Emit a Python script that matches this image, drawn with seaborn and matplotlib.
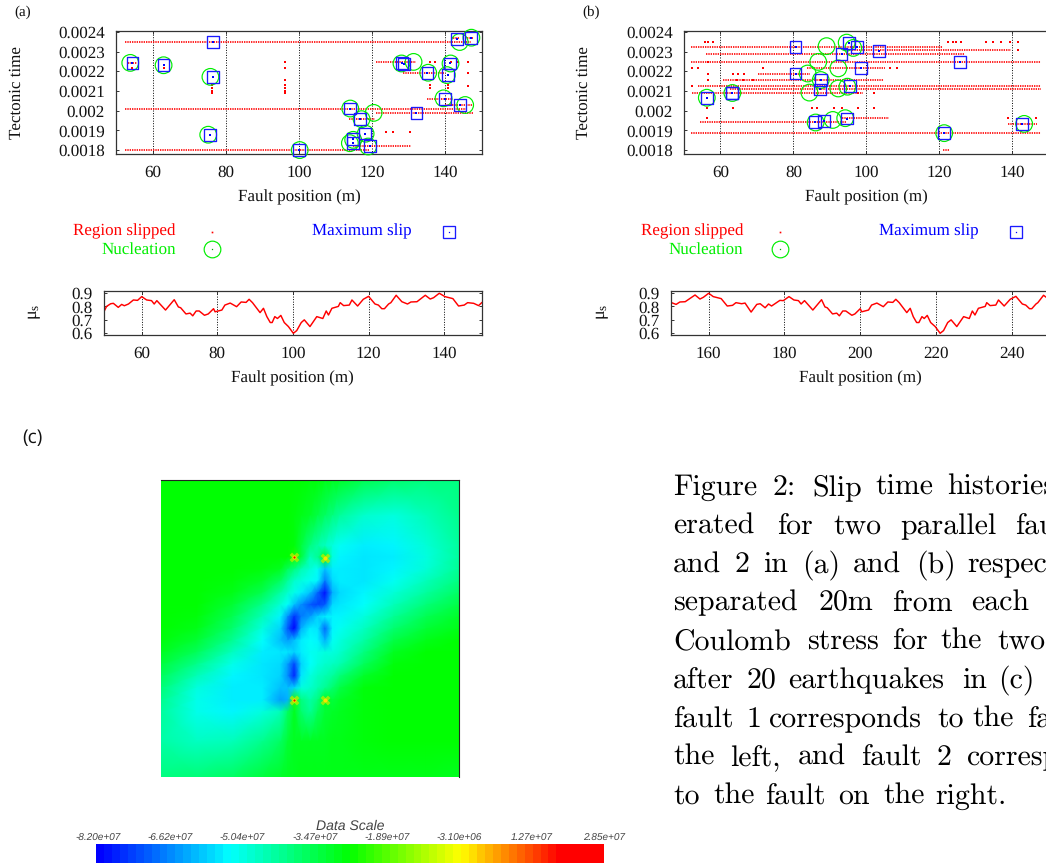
import numpy as np
import seaborn as sns
import matplotlib
matplotlib.use("Agg")
import matplotlib.pyplot as plt
from matplotlib.colors import LinearSegmentedColormap
from matplotlib.lines import Line2D

### panel (a) - slip histories, fault 1
a_row_time = [0.00235, 0.00201, 0.0018, 0.00182, 0.002247, 0.00219, 0.00206, 0.00203, 0.00199, 0.00196, 0.00224, 0.00237, 0.00237]
a_row_start = [52.4, 52.4, 52.4, 114.8, 121, 128.4, 135, 140, 121, 113.7, 53.4, 142.2, 146]
a_row_end = [147, 146, 119, 130.7, 132, 140, 142, 147.5, 147.5, 120.7, 55.8, 144, 147.8]
a_dot_x = [96.1, 96.1, 96.1, 96.1, 96.1, 96.1, 96.1, 76.3, 76.3, 76.3, 76.3, 135.7, 135.7, 140.7, 140.7, 146.2, 146.2, 135.7, 137.1, 141.6, 143.4, 146.2, 123.9, 125.7, 130.2, 54.5, 63]
a_dot_t = [0.002248, 0.002218, 0.002156, 0.00213, 0.002113, 0.002102, 0.002088, 0.00213, 0.002113, 0.002102, 0.002088, 0.00213, 0.002113, 0.00213, 0.002113, 0.002193, 0.002125, 0.002247, 0.002247, 0.002247, 0.002247, 0.002247, 0.00189, 0.00189, 0.00189, 0.002218, 0.002215]
a_max_x = [54.5, 63.0, 76.4, 76.4, 75.6, 100.0, 114.0, 116.6, 118.1, 114.8, 114.8, 119.5, 128.2, 128.7, 132.1, 135.1, 140.7, 139.8, 143.9, 141.3, 143.1, 146.9]
a_max_t = [0.002243, 0.002231, 0.002349, 0.002172, 0.001878, 0.0018, 0.002011, 0.001957, 0.001884, 0.001856, 0.001835, 0.00182, 0.002243, 0.002238, 0.001989, 0.002193, 0.002181, 0.00206, 0.002029, 0.00224, 0.002366, 0.002371]
a_nuc_x = [53.9, 63.0, 75.8, 75.2, 100.2, 114.0, 117.1, 120.4, 118.2, 114.8, 113.9, 118.9, 128.0, 131.3, 135.3, 140.4, 139.5, 145.4, 141.4, 143.9, 147.1]
a_nuc_t = [0.002243, 0.002231, 0.002172, 0.001878, 0.0018, 0.002011, 0.001957, 0.001989, 0.001883, 0.001852, 0.001835, 0.001818, 0.00224, 0.002248, 0.002193, 0.002181, 0.002063, 0.002029, 0.00224, 0.002349, 0.002371]

### panel (b) - slip histories, fault 2
b_row_time = [0.002326, 0.002306, 0.002289, 0.002248, 0.002218, 0.002189, 0.002156, 0.002125, 0.00211, 0.002091, 0.001962, 0.001942, 0.001933, 0.001888, 0.0018]
b_row_start = [52.1, 96, 56, 52.1, 83.7, 70.4, 60.8, 54, 62.7, 52.3, 93.2, 54.4, 138.9, 52.1, 121.1]
b_row_end = [121, 139.5, 127, 147.8, 105, 84.6, 104.7, 147.8, 147.8, 99.2, 106.3, 94.6, 146.7, 147.8, 122.9]
b_dot_x = [55.8, 56.7, 57.9, 122.3, 123.8, 124.6, 125.8, 132.7, 134.6, 136.9, 139.4, 141.6, 56.7, 52.3, 54, 71.6, 106.5, 108.5, 56.7, 63.4, 64.9, 66.5, 56.7, 64.5, 66.3, 68.9, 52.3, 56.3, 63.6, 85, 86.6, 91.2, 93.2, 97.8, 102.1, 56.3, 138.9, 146.4, 97.8, 102.1, 141.6]
b_dot_t = [0.00235] * 12 + [0.002248] + [0.002218] * 5 + [0.002186] * 4 + [0.002156] * 4 + [0.002125] + [0.002012] * 8 + [0.001962] * 3 + [0.002091] * 2 + [0.002306]
b_max_x = [80.6, 95.2, 97.4, 103.4, 93.2, 125.7, 98.5, 80.6, 87.6, 95.5, 87.3, 56.3, 63.1, 63.3, 85.9, 88.4, 94.6, 121.3, 142.6]
b_max_t = [0.002324, 0.002346, 0.002324, 0.002304, 0.002289, 0.002248, 0.002218, 0.002189, 0.002156, 0.002125, 0.002108, 0.002065, 0.002088, 0.00209, 0.001942, 0.001948, 0.00196, 0.001888, 0.001933]
b_nuc_x = [89.1, 94.6, 96.4, 86.8, 92.3, 83.9, 87.5, 94.8, 92.3, 84.4, 56.3, 63.3, 86.1, 90.8, 94.2, 121.3, 143.2]
b_nuc_t = [0.002328, 0.002346, 0.002319, 0.002248, 0.002215, 0.002189, 0.002156, 0.002122, 0.002113, 0.002092, 0.002066, 0.00209, 0.00194, 0.001953, 0.001962, 0.001886, 0.001933]

### static friction profiles
mu_a_x = [50, 50.7, 51.8, 52.5, 53.8, 54.7, 55.4, 56.5, 57.8, 58.9, 60, 61.3, 62.6, 63.3, 64, 66.3, 68.6, 69.7, 70.3, 71.7, 72.8, 73.5, 74.4, 75.2, 76.6, 77.6, 79, 79.4, 81.2, 82, 83.4, 85.1, 86.3, 87.6, 88.4, 89.3, 91.3, 92.2, 93.1, 94, 94.5, 95.2, 95.9, 96.8, 97.7, 98.8, 100.1, 101, 102.2, 103, 104.5, 106.3, 107.9, 108.8, 109.4, 110.3, 112, 112.5, 113.4, 114.9, 115.6, 117.1, 118.6, 120, 121.7, 122.6, 123.5, 124.2, 125.3, 125.9, 127.3, 128.8, 130.3, 131.2, 132.8, 135, 136.3, 137.2, 138.7, 140.2, 142.3, 143.8, 145.3, 146.2, 147.8, 149.1, 150]
mu_a = [0.76, 0.80, 0.82, 0.823, 0.793, 0.815, 0.805, 0.818, 0.848, 0.845, 0.873, 0.848, 0.843, 0.818, 0.843, 0.773, 0.85, 0.796, 0.79, 0.744, 0.75, 0.73, 0.766, 0.766, 0.734, 0.744, 0.783, 0.76, 0.773, 0.81, 0.825, 0.798, 0.833, 0.83, 0.853, 0.828, 0.754, 0.786, 0.724, 0.68, 0.68, 0.724, 0.71, 0.733, 0.68, 0.65, 0.60, 0.62, 0.68, 0.70, 0.65, 0.724, 0.71, 0.766, 0.736, 0.786, 0.80, 0.828, 0.806, 0.81, 0.848, 0.803, 0.853, 0.875, 0.818, 0.81, 0.783, 0.783, 0.818, 0.828, 0.883, 0.835, 0.818, 0.833, 0.835, 0.883, 0.855, 0.865, 0.898, 0.873, 0.858, 0.803, 0.81, 0.828, 0.823, 0.806, 0.83]
mu_b_x = [150, 151.4, 152.4, 153.8, 156.4, 157.7, 158.6, 160, 161.2, 163.3, 164.9, 166.3, 167.2, 168.7, 169.6, 171.2, 172.7, 173.6, 174.9, 175.8, 176.6, 178.8, 179.7, 181.2, 182.5, 183.7, 184.4, 185.3, 187.5, 189.8, 190.7, 191.3, 192.7, 193.8, 194.5, 195.4, 196.2, 197.8, 198.6, 200, 200.4, 202.2, 203, 204.4, 206.1, 207.3, 208.6, 209.4, 210.3, 212.3, 213.2, 214, 214.9, 215.5, 216.3, 216.9, 217.7, 218.6, 219.8, 221.1, 222, 223.1, 224, 225.5, 227.3, 228.8, 229.6, 230.3, 231.2, 233, 233.4, 234.3, 235.8, 236.5, 238, 239.6, 241.1, 242.8, 243.7, 244.7, 245.3, 246.4, 246.9, 248.4, 249.1, 250]
mu_b = [0.83, 0.815, 0.833, 0.835, 0.885, 0.855, 0.868, 0.898, 0.873, 0.858, 0.803, 0.808, 0.828, 0.82, 0.825, 0.758, 0.815, 0.82, 0.79, 0.818, 0.803, 0.845, 0.843, 0.873, 0.848, 0.843, 0.818, 0.843, 0.773, 0.85, 0.796, 0.79, 0.744, 0.75, 0.73, 0.766, 0.766, 0.734, 0.744, 0.783, 0.76, 0.773, 0.81, 0.825, 0.798, 0.833, 0.83, 0.853, 0.828, 0.754, 0.786, 0.724, 0.68, 0.68, 0.724, 0.71, 0.733, 0.68, 0.65, 0.60, 0.62, 0.68, 0.70, 0.65, 0.724, 0.71, 0.766, 0.736, 0.786, 0.80, 0.828, 0.806, 0.81, 0.848, 0.803, 0.853, 0.875, 0.818, 0.81, 0.783, 0.783, 0.818, 0.828, 0.883, 0.868, 0.86]

### coulomb stress field (units of 1e6), nodes as fraction of the frame
field_u = [0, 0.12, 0.24, 0.34, 0.40, 0.425, 0.447, 0.47, 0.50, 0.525, 0.55, 0.575, 0.60, 0.68, 0.78, 0.89, 1]
field_v = [0, 0.12, 0.22, 0.26, 0.30, 0.34, 0.38, 0.42, 0.46, 0.50, 0.54, 0.58, 0.62, 0.66, 0.70, 0.74, 0.78, 0.88, 1]
field = [
    [-27, -27, -27, -27, -27, -27, -27, -27, -28, -28, -29, -30, -31, -35, -38, -40, -40],
    [-27, -27, -27, -27, -27, -27, -28, -29, -31, -34, -37, -40, -43, -48, -50, -46, -41],
    [-27, -27, -27, -27, -27, -27, -28, -33, -40, -44, -47, -50, -52, -55, -54, -49, -43],
    [-27, -27, -27, -27, -27, -27, -24, -33, -46, -42, -30, -50, -54, -56, -55, -50, -43],
    [-27, -27, -27, -28, -30, -36, -40, -45, -49, -52, -60, -55, -55, -56, -54, -49, -42],
    [-27, -27, -28, -31, -37, -43, -48, -50, -52, -54, -68, -57, -55, -56, -52, -46, -40],
    [-27, -27, -29, -35, -44, -48, -51, -55, -60, -70, -80, -62, -57, -54, -49, -43, -37],
    [-27, -27, -32, -41, -49, -53, -60, -66, -72, -74, -72, -57, -56, -53, -46, -39, -34],
    [-27, -28, -35, -46, -54, -66, -76, -68, -64, -58, -55, -54, -54, -50, -42, -35, -31],
    [-27, -29, -38, -50, -58, -72, -82, -62, -55, -56, -70, -54, -52, -47, -38, -32, -29],
    [-28, -32, -42, -53, -60, -64, -60, -55, -53, -54, -62, -52, -50, -44, -34, -29, -27],
    [-30, -36, -47, -55, -56, -56, -58, -55, -52, -51, -50, -50, -48, -40, -30, -27, -27],
    [-33, -41, -51, -56, -57, -64, -74, -58, -53, -50, -48, -47, -45, -36, -28, -27, -27],
    [-36, -46, -54, -56, -58, -66, -78, -56, -50, -47, -45, -43, -39, -31, -27, -27, -27],
    [-39, -50, -55, -55, -60, -60, -58, -50, -48, -45, -42, -38, -34, -28, -27, -27, -27],
    [-41, -51, -55, -55, -64, -62, -24, -40, -44, -40, -30, -33, -31, -28, -27, -27, -27],
    [-43, -51, -54, -50, -46, -37, -30, -38, -42, -36, -32, -31, -30, -28, -27, -27, -27],
    [-44, -47, -46, -41, -37, -32, -30, -30, -30, -30, -30, -29, -29, -28, -27, -27, -27],
    [-40, -39, -37, -33, -31, -30, -30, -29, -29, -29, -29, -29, -29, -29, -29, -29, -30],
]
tip_u = [0.447, 0.55, 0.447, 0.55]
tip_v = [0.26, 0.263, 0.742, 0.742]
scale_labels = ["-8.20e+07", "-6.62e+07", "-5.04e+07", "-3.47e+07", "-1.89e+07", "-3.10e+06", "1.27e+07", "2.85e+07"]
scale_min = -82
scale_max = 28.5

top_xticks = [60, 80, 100, 120, 140]
top_yticks = [0.0018, 0.0019, 0.002, 0.0021, 0.0022, 0.0023, 0.0024]
top_ylabels = ["0.0018", "0.0019", "0.002", "0.0021", "0.0022", "0.0023", "0.0024"]
mu_yticks = [0.6, 0.7, 0.8, 0.9]
mu_a_xticks = [60, 80, 100, 120, 140]
mu_b_xticks = [160, 180, 200, 220, 240]

caption_words = [
    ["Figure", "2:", "Slip", "time", "histories"],
    ["erated", "for", "two", "parallel", "faults"],
    ["and", "2", "in", "(a)", "and", "(b)", "respectively,"],
    ["separated", "20m", "from", "each"],
    ["Coulomb", "stress", "for", "the", "two"],
    ["after", "20", "earthquakes", "in", "(c)"],
    ["fault", "1", "corresponds", "to", "the", "fault"],
    ["the", "left,", "and", "fault", "2", "corresponds"],
    ["to", "the", "fault", "on", "the", "right."],
]
# justified word starts, pixels from x=650
caption_x = [
    [23, 123, 162, 225, 297],
    [23, 127, 183, 250, 365],
    [23, 85, 113, 152, 203, 266, 317],
    [23, 169, 242, 321],
    [23, 157, 242, 290, 347],
    [23, 97, 138, 312, 348],
    [23, 96, 118, 287, 322, 377],
    [23, 80, 148, 211, 287, 316],
    [23, 63, 115, 188, 233, 285],
]
caption_base = [495, 534, 572.3, 610.7, 649, 688, 727, 765, 804]

W, H = 1046, 865
sns.set_theme(style="ticks")
plt.rcParams["font.family"] = ["Liberation Serif", "DejaVu Sans"]
plt.rcParams["axes.edgecolor"] = "#333333"
plt.rcParams["axes.linewidth"] = 0.9
plt.rcParams["xtick.color"] = "#333333"
plt.rcParams["ytick.color"] = "#333333"
plt.rcParams["text.color"] = "#111111"
plt.rcParams["text.hinting"] = "no_hinting"
plt.rcParams["text.hinting_factor"] = 1

fig = plt.figure(figsize=(W / 100, H / 100), dpi=100, facecolor="white")


def px_axes(left, top, right, bottom):
    return fig.add_axes([left / W, 1 - bottom / H, (right - left) / W, (bottom - top) / H])


def px_text(x, y, s, **kw):
    kw.setdefault("ha", "center")
    kw.setdefault("va", "center")
    kw.setdefault("fontsize", 12.4)
    fig.text(x / W, 1 - y / H, s, **kw)


def style_axes(ax, xticks, yticks, ylabels):
    ax.set_xticks(xticks)
    ax.set_yticks(yticks)
    ax.set_yticklabels(ylabels)
    ax.set_xlabel("")
    ax.set_ylabel("")
    ax.tick_params(direction="in", length=2.5, width=0.7, top=True, right=True, pad=8, labelsize=12.3, labelcolor="#111111")
    ax.grid(axis="x", color="black", linewidth=0.7, linestyle=(0, (1, 1.6)))
    ax.set_axisbelow(True)


def slip_panel(rect, rows, dots, maxima, nucleations):
    ax = px_axes(*rect)
    ax.hlines(rows[0], rows[1], rows[2], color="#ff0000", linewidth=1.4, linestyle=(0, (0.7, 0.5)), alpha=0.85)
    sns.scatterplot(x=dots[0], y=dots[1], marker="s", s=2, color="#ff0000", linewidth=0, ax=ax, legend=False)
    sns.scatterplot(x=nucleations[0], y=nucleations[1], marker="o", s=144, facecolor="none", edgecolor="#00ee00", linewidth=0.85, ax=ax, legend=False, clip_on=False, zorder=4)
    sns.scatterplot(x=maxima[0], y=maxima[1], marker="s", s=72, facecolor="none", edgecolor="#1a1aff", linewidth=0.95, ax=ax, legend=False, clip_on=False, zorder=5)
    sns.scatterplot(x=maxima[0], y=maxima[1], marker="s", s=0.6, color="#0000ff", linewidth=0, ax=ax, legend=False, zorder=5)
    ax.set_xlim(50, 150)
    ax.set_ylim(0.00178, 0.002405)
    style_axes(ax, top_xticks, top_yticks, top_ylabels)
    return ax


def mu_panel(rect, x, y, xlim, xticks):
    ax = px_axes(*rect)
    sns.lineplot(x=x, y=y, color="#ff0000", linewidth=1.05, sort=False, estimator=None, errorbar=None, ax=ax)
    ax.set_xlim(*xlim)
    ax.set_ylim(0.585, 0.917)
    style_axes(ax, xticks, mu_yticks, [str(v) for v in mu_yticks])
    return ax


slip_panel((116, 31, 482, 154), (a_row_time, a_row_start, a_row_end), (a_dot_x, a_dot_t), (a_max_x, a_max_t), (a_nuc_x, a_nuc_t))
slip_panel((683.8, 31, 1049, 154), (b_row_time, b_row_start, b_row_end), (b_dot_x, b_dot_t), (b_max_x, b_max_t), (b_nuc_x, b_nuc_t))
mu_panel((103.9, 290.7, 482, 335.3), mu_a_x, mu_a, (50, 150), mu_a_xticks)
mu_panel((670.8, 290.7, 1049.6, 335.3), mu_b_x, mu_b, (150, 250), mu_b_xticks)

### text of the two plot columns
px_text(23, 12, "(a)", fontsize=11)
px_text(591, 12, "(b)", fontsize=11)
for x in (16.5, 584):
    px_text(x, 92.5, "Tectonic time", rotation=90)
for x in (299, 866.5):
    px_text(x, 197, "Fault position (m)")
for x in (292.3, 860):
    px_text(x, 378, "Fault position (m)")
for x in (35, 602.7):
    px_text(x, 311.5, r"$\mathregular{μ_s}$", rotation=90, fontsize=13)

### legends
for right, dot_x, max_right, square_x in ((175.7, 212.3, 412, 449), (743.3, 780, 979, 1016)):
    px_text(right, 231.7, "Region slipped", ha="right", color="#ff0000", fontsize=12.2)
    px_text(right, 249.3, "Nucleation", ha="right", color="#00ee00", fontsize=12.2)
    px_text(max_right, 231.7, "Maximum slip", ha="right", color="#0000ff", fontsize=12.2)
    fig.add_artist(Line2D([dot_x / W], [1 - 231.7 / H], marker="s", markersize=1.2, markeredgewidth=0, color="#ff0000"))
    fig.add_artist(Line2D([dot_x / W], [1 - 249.3 / H], marker="o", markersize=12, markerfacecolor="none", markeredgecolor="#00ee00", markeredgewidth=0.85))
    fig.add_artist(Line2D([dot_x / W], [1 - 249.3 / H], marker="s", markersize=0.9, markeredgewidth=0, color="#00aa00"))
    fig.add_artist(Line2D([square_x / W], [1 - 231.7 / H], marker="s", markersize=8.5, markerfacecolor="none", markeredgecolor="#1a1aff", markeredgewidth=0.95))
    fig.add_artist(Line2D([square_x / W], [1 - 231.7 / H], marker="s", markersize=0.9, markeredgewidth=0, color="#0000ff"))

### stress field and its colour scale
rainbow = LinearSegmentedColormap.from_list("rainbow_scale", [(0, "#0000ff"), (0.26, "#00ffff"), (0.5, "#00ff00"), (0.72, "#ffff00"), (0.92, "#ff0000"), (1, "#ff0000")])
px_text(32, 438, "(c)", family="Open Sans", fontsize=14)

ax_field = px_axes(161, 480, 459.3, 777)
ax_field.pcolormesh(field_u, field_v, np.array(field), cmap=rainbow, vmin=scale_min, vmax=scale_max, shading="gouraud")
# the four fault tips are only a few pixels wide
sns.scatterplot(x=tip_u, y=tip_v, marker="X", s=50, color="#b0f000", linewidth=0, alpha=0.8, ax=ax_field, legend=False)
sns.scatterplot(x=tip_u, y=tip_v, marker="o", s=8, color="#ffe000", linewidth=0, ax=ax_field, legend=False)
sns.scatterplot(x=tip_u[::2], y=tip_v[::2], marker="o", s=2.5, color="#e02000", linewidth=0, ax=ax_field, legend=False)
ax_field.set_xlim(0, 1)
ax_field.set_ylim(1, 0)
ax_field.set_xticks([])
ax_field.set_yticks([])
for side in ("left", "bottom"):
    ax_field.spines[side].set_visible(False)
for side in ("top", "right"):
    ax_field.spines[side].set_color("#222222")
    ax_field.spines[side].set_linewidth(0.8)

ax_scale = px_axes(96, 844, 604, 862.7)
sns.heatmap(np.linspace(scale_min, scale_max, 64).reshape(1, -1), cmap=rainbow, vmin=scale_min, vmax=scale_max, cbar=False, xticklabels=False, yticklabels=False, ax=ax_scale)
px_text(350, 826.5, "Data Scale", family="Liberation Sans", style="italic", fontsize=10, color="#444444")
for i, label in enumerate(scale_labels):
    px_text(98 + i * 72.3, 838, label, family="Liberation Sans", style="italic", fontsize=7.4, color="#444444")

### caption, words placed one by one since the lines are justified
for words, starts, base in zip(caption_words, caption_x, caption_base):
    for word, start in zip(words, starts):
        px_text(650 + start, base, word, ha="left", va="baseline", family="cmr10", fontsize=21.5, color="black")

fig.savefig("out.png", dpi=100)
